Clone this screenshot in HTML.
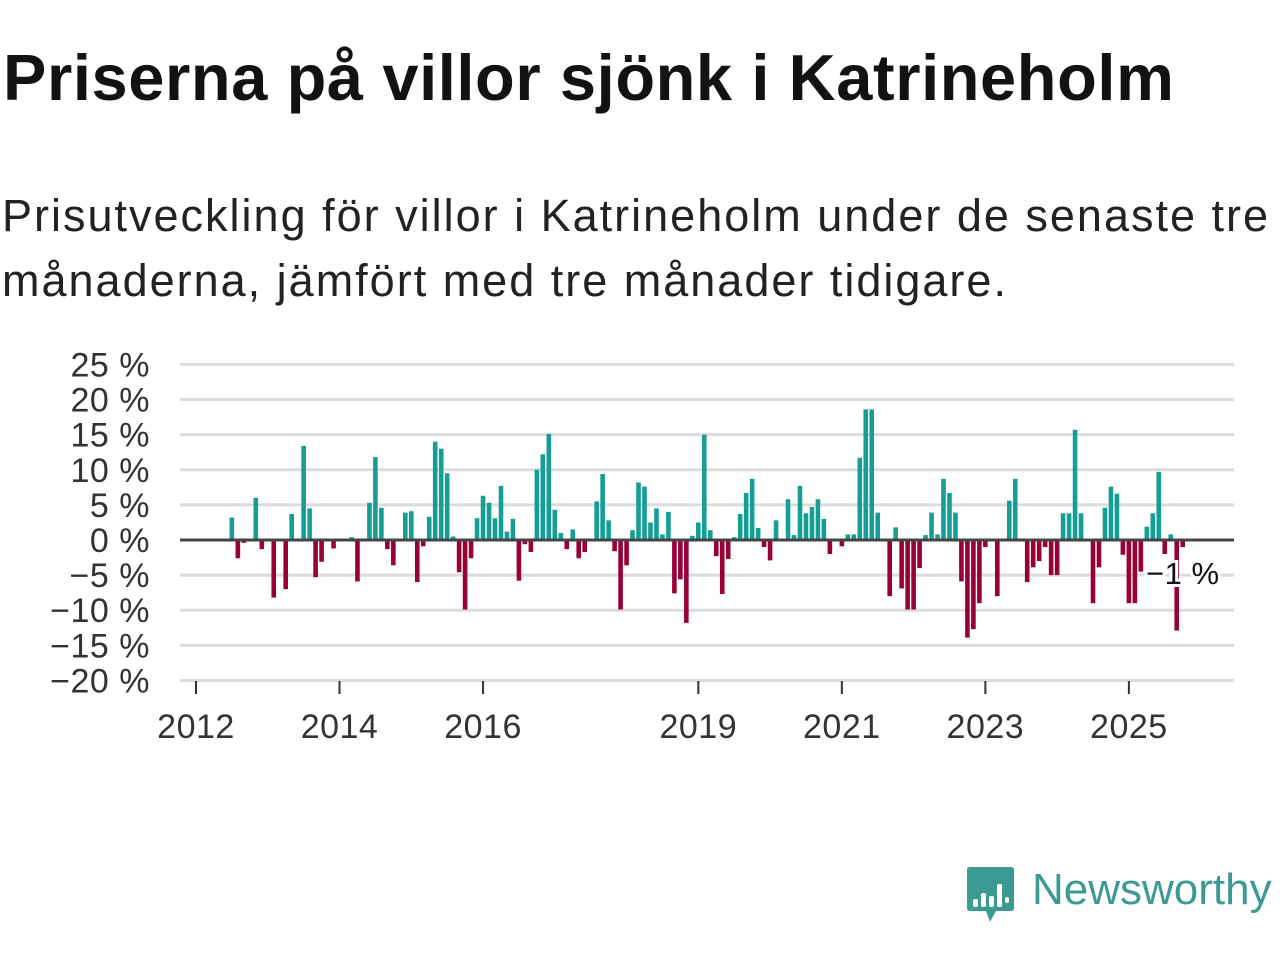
<!DOCTYPE html>
<html><head><meta charset="utf-8">
<style>
body{margin:0;width:1280px;height:960px;background:#fff;overflow:hidden;font-family:"Liberation Sans",sans-serif}
#title{position:absolute;left:3px;top:40px;font-size:65px;line-height:75px;font-weight:bold;color:#121212;margin:0;white-space:nowrap;letter-spacing:0.6px}
#sub{position:absolute;left:2px;top:183px;font-size:45px;line-height:65px;color:#222;margin:0;white-space:nowrap;letter-spacing:2px}
svg{position:absolute;left:0;top:0}
</style></head><body>
<h1 id="title">Priserna på villor sjönk i Katrineholm</h1>
<p id="sub">Prisutveckling för villor i Katrineholm under de senaste tre<br>månaderna, jämfört med tre månader tidigare.</p>
<svg id="chart" width="1280" height="960"></svg>
<script>
const startMonthIndex = 6; // months after Jan 2012
const values = [3.2,-2.6,-0.4,0,6.0,-1.3,0,-8.2,0,-7.0,3.7,0,13.4,4.5,-5.3,-3.1,0,-1.2,0,0,0.4,-5.9,0,5.3,11.8,4.6,-1.3,-3.6,0,3.9,4.1,-6.0,-0.9,3.3,14.0,13.0,9.5,0.5,-4.6,-9.9,-2.6,3.1,6.3,5.3,3.1,7.7,1.2,3.0,-5.8,-0.6,-1.7,10.0,12.2,15.1,4.3,1.0,-1.3,1.5,-2.6,-1.7,0,5.5,9.4,2.8,-1.6,-9.9,-3.6,1.4,8.2,7.6,2.5,4.5,0.8,4.0,-7.6,-5.6,-11.8,0.6,2.5,15.0,1.4,-2.3,-7.7,-2.7,0.4,3.7,6.7,8.7,1.7,-1.0,-2.9,2.8,0,5.8,0.7,7.7,3.8,4.7,5.8,3.0,-2.0,0,-0.9,0.8,0.8,11.7,18.6,18.6,3.9,0,-8.0,1.8,-6.9,-9.9,-9.9,-4.0,0.7,3.9,0.8,8.7,6.7,3.9,-5.9,-13.9,-12.7,-9.0,-1.0,0,-8.0,0,5.6,8.7,0,-6.0,-3.9,-3.0,-1.0,-5.0,-5.0,3.8,3.8,15.7,3.8,0,-9.0,-3.9,4.6,7.6,6.6,-2.1,-9.0,-9.0,-4.5,1.9,3.8,9.7,-2.0,0.8,-12.9,-1.0];
const yTicks = [25,20,15,10,5,0,-5,-10,-15,-20];
const yTickLabels = ["25 %","20 %","15 %","10 %","5 %","0 %","−5 %","−10 %","−15 %","−20 %"];
const xTickYears = [2012,2014,2016,2019,2021,2023,2025];
const lastLabel = "−1 %";

const NS="http://www.w3.org/2000/svg";
const svg=document.getElementById('chart');
const x0=196, pxPerMonth=5.98, yZero=540, pxPerPct=7.022;
const xScale=m=>x0+m*pxPerMonth;
const yScale=v=>yZero-v*pxPerPct;
function mk(tag,attrs){const e=document.createElementNS(NS,tag);for(const k in attrs)e.setAttribute(k,attrs[k]);svg.appendChild(e);return e;}

yTicks.forEach((t,i)=>{
  const y=yScale(t);
  if(t!==0){const g=mk('line',{x1:180,x2:1234,y1:y,y2:y,stroke:'#dcdcdc','stroke-width':3});
  
  }
  const l=mk('text',{x:150,y:y+12,'text-anchor':'end','font-size':34,fill:'#333','font-family':'Liberation Sans, sans-serif','letter-spacing':0.5});
  l.textContent=yTickLabels[i];
  
  
});
xTickYears.forEach(yr=>{
  const x=xScale((yr-2012)*12);
  const t=mk('line',{x1:x,x2:x,y1:681,y2:694,stroke:'#333','stroke-width':2});
  
  
  const l=mk('text',{x:x,y:738,'text-anchor':'middle','font-size':34,fill:'#333','font-family':'Liberation Sans, sans-serif','letter-spacing':0.5});
  l.textContent=yr;
  
  
});
values.forEach((v,i)=>{
  if(v===0)return;
  const x=xScale(startMonthIndex+i);
  const y=Math.min(yScale(v),yZero), h=Math.abs(yScale(v)-yZero);
  const b=mk('rect',{x:x-2.3,y:y,width:4.6,height:h,fill:v>0?'#159e96':'#990038'});
  
  
});
const z=mk('line',{x1:180,x2:1234,y1:yZero,y2:yZero,stroke:'#444','stroke-width':3});


const ll=mk('text',{x:1146,y:584,'font-size':31,fill:'#111',stroke:'#fff','stroke-width':6,'paint-order':'stroke','font-family':'Liberation Sans, sans-serif','letter-spacing':0.5});
ll.textContent=lastLabel;



// logo
const lg=mk('g',{});


const p=document.createElementNS(NS,'path');
p.setAttribute('d','M970 867 H1011 Q1014 867 1014 870 V908 Q1014 911 1011 911 H996 L990 922 L986 911 H970 Q967 911 967 908 V870 Q967 867 970 867 Z');
p.setAttribute('fill','#3d9a92');lg.appendChild(p);
[[973,899,5,8],[981,893,5,14],[989,896,5,11],[997,884,5,23],[1005,897,4,6]].forEach(r=>{
  const e=document.createElementNS(NS,'rect');e.setAttribute('x',r[0]);e.setAttribute('y',r[1]);e.setAttribute('width',r[2]);e.setAttribute('height',r[3]);e.setAttribute('rx',2);e.setAttribute('fill','#fff');lg.appendChild(e);
});
const lt=document.createElementNS(NS,'text');
lt.setAttribute('x',1032);lt.setAttribute('y',904);lt.setAttribute('font-size',44);lt.setAttribute('fill','#3d9a92');lt.setAttribute('font-family','Liberation Sans, sans-serif');
lt.textContent='Newsworthy';lg.appendChild(lt);
</script>
</body></html>
